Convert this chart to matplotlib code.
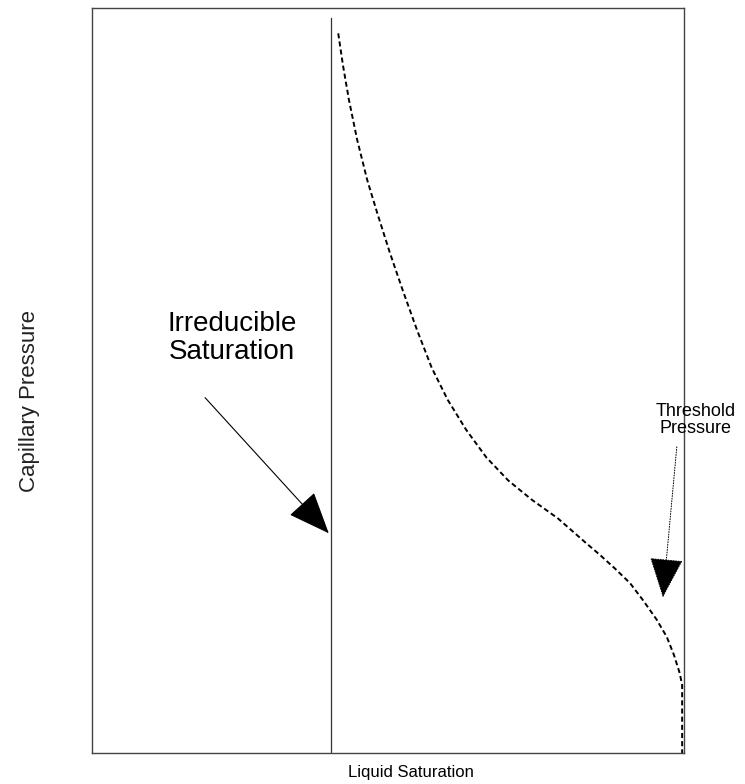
import matplotlib
matplotlib.use("Agg")
import matplotlib.pyplot as plt

# curve (fraction of axis range)
saturation = [0.416, 0.424, 0.434, 0.448, 0.465, 0.483, 0.503, 0.525, 0.549, 0.574,
              0.601, 0.632, 0.666, 0.703, 0.743, 0.787, 0.833, 0.858, 0.883, 0.909,
              0.931, 0.954, 0.971, 0.983, 0.993, 0.997, 0.997]
pressure = [0.966, 0.923, 0.877, 0.823, 0.769, 0.722, 0.672, 0.621, 0.568, 0.517,
            0.474, 0.434, 0.397, 0.366, 0.340, 0.315, 0.283, 0.266, 0.248, 0.228,
            0.205, 0.179, 0.156, 0.132, 0.107, 0.091, 0.0]

irreducible_sat = 0.404
irreducible_top = 0.987

plt.rcParams['font.family'] = ['Liberation Sans', 'DejaVu Sans']

fig = plt.figure(figsize=(7.45, 7.84), dpi=100)
ax = fig.add_axes([0.1235, 0.0395, 0.7945, 0.9503])

ax.plot(saturation, pressure, color="black", lw=1.4, linestyle=(0, (2.6, 1.6)))
ax.plot([irreducible_sat, irreducible_sat], [0, irreducible_top], color="#333333", lw=0.9)

ax.set_xlim(0, 1)
ax.set_ylim(0, 1)
ax.set_xticks([])
ax.set_yticks([])
for s in ax.spines.values():
    s.set_color("#444444")
    s.set_linewidth(1.0)

ax.set_xlabel("Liquid Saturation", fontsize=12)
ax.xaxis.set_label_coords(0.539, -0.016)
ax.set_ylabel("Capillary Pressure", fontsize=16, color="#222222")
ax.yaxis.set_label_coords(-0.088, 0.472)

# annotations
ax.text(0.2365, 0.557, "Irreducible\nSaturation", fontsize=20, ha="center", va="center",
        linespacing=1.1)
ax.annotate("", xy=(0.400, 0.295), xytext=(0.191, 0.477),
            arrowprops=dict(arrowstyle="-|>,head_length=1.35,head_width=0.55",
                            mutation_scale=20, color="black", lw=0.8, shrinkA=0, shrinkB=0))

ax.text(1.020, 0.447, "Threshold\nPressure", fontsize=13, ha="center", va="center",
        linespacing=0.95, clip_on=False)
ax.annotate("", xy=(0.9645, 0.209), xytext=(0.988, 0.411),
            arrowprops=dict(arrowstyle="-|>,head_length=1.3,head_width=0.55",
                            mutation_scale=20, color="black", lw=0.7, linestyle=":",
                            shrinkA=0, shrinkB=0))

fig.savefig("out.png", dpi=100)
